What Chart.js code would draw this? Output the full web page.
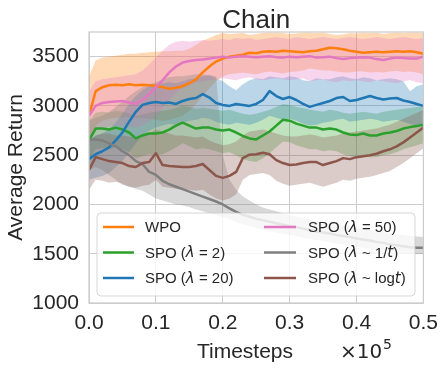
<!DOCTYPE html>
<html><head><meta charset="utf-8">
<script src="https://cdn.jsdelivr.net/npm/chart.js@4.4.1/dist/chart.umd.min.js"></script>
<style>html,body{margin:0;padding:0;background:#fff}canvas{display:block}</style>
</head><body>
<canvas id="c" width="446" height="373"></canvas>
<script>
const timesteps = [0,0.01,0.02,0.03,0.04,0.05,0.06,0.07,0.08,0.09,0.1,0.11,0.12,0.13,0.14,0.15,0.16,0.17,0.18,0.19,0.2,0.21,0.22,0.23,0.24,0.25,0.26,0.27,0.28,0.29,0.3,0.31,0.32,0.33,0.34,0.35,0.36,0.37,0.38,0.39,0.4,0.41,0.42,0.43,0.44,0.45,0.46,0.47,0.48,0.49,0.5];
const xTicks = [0, 0.1, 0.2, 0.3, 0.4, 0.5];
const yTicks = [1000, 1500, 2000, 2500, 3000, 3500];

const wpoMean  = [2900,3150,3190,3210,3215,3210,3220,3210,3215,3210,3205, 3190,3175,3185,3200,3230,3270,3340,3400,3450,3480, 3500,3510,3520,3540,3535,3550,3555,3550,3560,3555, 3550,3545,3555,3560,3575,3590,3585,3575,3560,3550, 3540,3545,3550,3545,3550,3555,3550,3555,3545,3530];
const wpoUpper = [3300,3460,3490,3500,3510,3520,3530,3530,3540,3545,3550, 3555,3555,3560,3560,3580,3620,3660,3690,3720,3740, 3730,3735,3740,3720,3730,3740,3745,3745,3740,3730, 3735,3745,3745,3740,3745,3730,3720,3725,3740,3735, 3745,3740,3745,3730,3740,3745,3740,3745,3745,3740];
const wpoLower = [2600,2800,2850,2870,2880,2880,2890,2880,2880,2870,2860, 2850,2860,2880,2900,2950,3020,3100,3180,3250,3300, 3320,3330,3340,3330,3320,3340,3350,3340,3330,3345, 3350,3360,3380,3370,3360,3360,3350,3340,3340,3350, 3350,3340,3345,3340,3350,3355,3345,3350,3340,3320];

const spo2Mean  = [2650,2770,2770,2760,2780,2760,2730,2670,2700,2720,2720, 2730,2760,2800,2830,2800,2770,2780,2780,2760,2750, 2760,2730,2695,2670,2660,2700,2740,2800,2860,2850, 2820,2800,2780,2780,2760,2770,2760,2730,2710,2705, 2720,2700,2700,2720,2730,2745,2770,2785,2795,2810];
const spo2Upper = [2850,2930,2940,2930,2950,2940,2920,2900,2910,2930,2940, 2950,2960,2980,3000,2990,2970,2980,2970,2960,2950, 2960,2940,2920,2910,2920,2940,2960,2990,3020,3010, 2990,2980,2960,2950,2940,2960,2950,2930,2920,2930, 2940,2930,2920,2940,2950,2960,2970,2980,2990,3000];
const spo2Lower = [2450,2560,2570,2560,2580,2560,2530,2470,2490,2510,2500, 2510,2540,2580,2620,2590,2560,2570,2560,2540,2520, 2530,2500,2460,2440,2430,2470,2520,2580,2640,2630, 2600,2580,2560,2560,2540,2550,2540,2510,2490,2480, 2500,2480,2480,2500,2510,2530,2560,2580,2600,2620];

const spo20Mean  = [2460,2510,2540,2580,2650,2730,2840,2940,3010,3030,3040, 3030,3035,3020,3050,3070,3080,3120,3085,3030,3010, 3000,3020,3010,3000,3020,3060,3150,3100,3070,3090, 3060,3020,2990,3010,3030,3050,3080,3090,3050,3060, 3080,3100,3080,3065,3075,3080,3055,3040,3020,3000];
const spo20Upper = [2650,2700,2720,2760,2830,2920,3020,3100,3160,3200,3220, 3230,3240,3230,3250,3270,3280,3300,3310,3280,3250, 3200,3160,3220,3260,3280,3270,3300,3290,3280,3300, 3290,3260,3250,3280,3270,3270,3290,3300,3280,3270, 3290,3280,3260,3270,3280,3270,3250,3150,3200,3220];
const spo20Lower = [2250,2270,2290,2320,2380,2440,2530,2620,2700,2750,2780, 2800,2820,2810,2830,2850,2860,2880,2870,2840,2820, 2810,2830,2820,2810,2830,2860,2900,2880,2860,2870, 2850,2820,2800,2810,2830,2840,2860,2870,2840,2850, 2860,2870,2860,2840,2850,2860,2840,2820,2800,2780];

const spo50Mean  = [2900,3000,3030,3040,3045,3050,3035,3020,3060,3120,3190, 3260,3340,3400,3440,3455,3465,3470,3480,3490,3500, 3490,3500,3505,3500,3495,3500,3505,3495,3490,3500, 3495,3500,3505,3490,3495,3500,3485,3475,3485,3490, 3495,3490,3475,3465,3480,3490,3485,3480,3480,3500];
const spo50Upper = [3150,3250,3270,3280,3290,3300,3310,3320,3360,3420,3490, 3560,3620,3650,3660,3650,3660,3670,3660,3670,3680, 3670,3690,3680,3690,3670,3680,3690,3700,3690,3680, 3700,3690,3680,3690,3700,3690,3680,3690,3700,3690, 3680,3690,3700,3690,3680,3690,3700,3690,3680,3690];
const spo50Lower = [2650,2750,2780,2790,2800,2800,2790,2780,2800,2840,2900, 2980,3060,3130,3180,3210,3240,3250,3260,3270,3280, 3270,3260,3280,3290,3270,3260,3270,3280,3270,3260, 3270,3280,3250,3260,3270,3250,3240,3260,3250,3260, 3250,3240,3260,3250,3240,3230,3250,3260,3240,3230];

const spoInvMean  = [2660,2660,2650,2620,2590,2540,2500,2440,2410,2330,2300, 2240,2205,2180,2155,2130,2105,2080,2055,2030,2000, 1960,1925,1895,1875,1855,1840,1825,1810,1795,1780, 1770,1755,1740,1725,1715,1705,1690,1680,1670,1655, 1645,1635,1620,1610,1595,1585,1575,1565,1560,1560];
const spoInvUpper = [2850,2880,2900,2940,2990,3040,3100,3150,3190,3220,3240, 3270,3290,3300,3300,3310,3320,3320,3310,3300,2500, 2250,2150,2080,2040,2000,1970,1950,1930,1910,1890, 1875,1860,1845,1830,1820,1810,1795,1785,1775,1760, 1750,1740,1730,1720,1705,1700,1690,1680,1675,1670];
const spoInvLower = [2350,2380,2350,2300,2250,2200,2180,2160,2140,2100,2060, 2040,2020,2000,1990,1975,1950,1930,1910,1890,1870, 1850,1820,1800,1780,1760,1745,1730,1715,1700,1690, 1680,1665,1650,1640,1630,1620,1605,1595,1580,1570, 1560,1550,1540,1530,1520,1510,1505,1500,1500,1500];

const spoLogMean  = [2350,2480,2460,2440,2430,2420,2390,2380,2420,2430,2520, 2400,2390,2385,2380,2380,2390,2410,2350,2290,2270, 2290,2330,2470,2505,2510,2525,2510,2450,2420,2400, 2405,2420,2430,2430,2400,2420,2440,2470,2460,2480, 2490,2500,2515,2540,2560,2590,2630,2680,2730,2780];
const spoLogUpper = [2650,2700,2720,2720,2700,2700,2690,2680,2700,2720,2760, 2740,2720,2700,2700,2690,2680,2690,2650,2620,2600, 2610,2640,2700,2740,2750,2760,2740,2720,2700,2690, 2690,2700,2710,2700,2680,2690,2700,2720,2730,2740, 2750,2760,2770,2790,2810,2840,2870,2900,2930,2960];
const spoLogLower = [2150,2250,2240,2220,2230,2210,2180,2170,2190,2200,2250, 2180,2170,2160,2150,2150,2140,2150,2100,2060,2040, 2060,2100,2250,2300,2310,2320,2300,2240,2210,2190, 2200,2210,2220,2200,2180,2200,2220,2250,2240,2260, 2270,2280,2300,2320,2340,2380,2420,2470,2520,2570];

// legend labels: segments [text, italic]
const legendLabels = [
  [['WPO', false]],
  [['SPO (', false], ['\u03bb', true], [' = 2)', false]],
  [['SPO (', false], ['\u03bb', true], [' = 20)', false]],
  [['SPO (', false], ['\u03bb', true], [' = 50)', false]],
  [['SPO (', false], ['\u03bb', true], [' ~ 1/', false], ['t', true], [')', false]],
  [['SPO (', false], ['\u03bb', true], [' ~ log', false], ['t', true], [')', false]]
];

const series = [
  {mean: wpoMean, upper: wpoUpper, lower: wpoLower, color: '#ff7f0e', rgb: '255,127,14'},
  {mean: spo2Mean, upper: spo2Upper, lower: spo2Lower, color: '#2ca02c', rgb: '44,160,44'},
  {mean: spo20Mean, upper: spo20Upper, lower: spo20Lower, color: '#1f77b4', rgb: '31,119,180'},
  {mean: spo50Mean, upper: spo50Upper, lower: spo50Lower, color: '#e377c2', rgb: '227,119,194'},
  {mean: spoInvMean, upper: spoInvUpper, lower: spoInvLower, color: '#7f7f7f', rgb: '127,127,127'},
  {mean: spoLogMean, upper: spoLogUpper, lower: spoLogLower, color: '#8c564b', rgb: '140,86,75'}
];

const pts = arr => timesteps.map((t, j) => ({x: t, y: arr[j]}));
const datasets = [];
series.forEach((s, i) => {
  const base = datasets.length;
  datasets.push({data: pts(s.upper), borderColor: 'rgba(0,0,0,0)', borderWidth: 0, pointRadius: 0,
    backgroundColor: 'rgba(' + s.rgb + ',0.3)', fill: base + 1, order: 100 - i * 2});
  datasets.push({data: pts(s.lower), borderColor: 'rgba(0,0,0,0)', borderWidth: 0, pointRadius: 0,
    fill: false, order: 99 - i * 2});
});
series.forEach((s, i) => {
  datasets.push({data: pts(s.mean), borderColor: s.color, borderWidth: 2.5, pointRadius: 0,
    fill: false, order: 50 - i, borderJoinStyle: 'round', borderCapStyle: 'butt'});
});

const FONT = "'Liberation Sans', Arial, sans-serif";
const TXT = '#262626';

function drawSegments(ctx, segs, x, y, size) {
  for (const [t, it] of segs) {
    ctx.font = it ? ('italic ' + size + "px 'DejaVu Sans', sans-serif") : (size + 'px ' + FONT);
    ctx.fillText(t, x, y);
    x += ctx.measureText(t).width;
  }
}

const deco = {
  id: 'deco',
  afterDatasetsDraw(chart) {
    const ctx = chart.ctx, a = chart.chartArea;
    ctx.save();
    // frame
    ctx.strokeStyle = '#cccccc';
    ctx.lineWidth = 1.25;
    ctx.strokeRect(a.left, a.top, a.right - a.left, a.bottom - a.top);
    // legend
    const lx = a.left + 8, ly = a.top + 181, lw = 318, lh = 83, r = 4;
    ctx.beginPath();
    ctx.moveTo(lx + r, ly);
    ctx.arcTo(lx + lw, ly, lx + lw, ly + lh, r);
    ctx.arcTo(lx + lw, ly + lh, lx, ly + lh, r);
    ctx.arcTo(lx, ly + lh, lx, ly, r);
    ctx.arcTo(lx, ly, lx + lw, ly, r);
    ctx.closePath();
    ctx.fillStyle = 'rgba(255,255,255,0.8)';
    ctx.fill();
    ctx.strokeStyle = 'rgba(204,204,204,0.8)';
    ctx.lineWidth = 1;
    ctx.stroke();
    const rows = [14, 39.5, 65];
    const cols = [{l0: 14, l1: 45, tx: 56}, {l0: 175, l1: 207, tx: 219}];
    ctx.textBaseline = 'middle';
    ctx.textAlign = 'left';
    series.forEach((s, i) => {
      const c = cols[Math.floor(i / 3)], yy = ly + rows[i % 3];
      ctx.strokeStyle = s.color;
      ctx.lineWidth = 2.5;
      ctx.beginPath();
      ctx.moveTo(a.left + c.l0, yy);
      ctx.lineTo(a.left + c.l1, yy);
      ctx.stroke();
      ctx.fillStyle = TXT;
      drawSegments(ctx, legendLabels[i], a.left + c.tx, yy + 1, 15);
    });
    ctx.restore();
  },
  afterDraw(chart) {
    const ctx = chart.ctx, a = chart.chartArea;
    ctx.save();
    ctx.fillStyle = TXT;
    ctx.textBaseline = 'alphabetic';
    ctx.textAlign = 'center';
    ctx.font = '26px ' + FONT;
    ctx.fillText('Chain', (a.left + a.right) / 2, 28);
    ctx.font = '21px ' + FONT;
    ctx.fillText('Timesteps', 245, 358);
    ctx.textAlign = 'left';
    ctx.font = "20px 'DejaVu Sans', sans-serif";
    ctx.fillText('\u00d710', 340, 358);
    ctx.font = "14px 'DejaVu Sans', sans-serif";
    ctx.fillText('5', 383, 349);
    ctx.translate(22, (a.top + a.bottom) / 2);
    ctx.rotate(-Math.PI / 2);
    ctx.textAlign = 'center';
    ctx.font = '21px ' + FONT;
    ctx.fillText('Average Return', 0, 0);
    ctx.restore();
  }
};

new Chart(document.getElementById('c'), {
  type: 'line',
  data: {datasets},
  options: {
    responsive: false,
    animation: false,
    devicePixelRatio: 1,
    layout: {padding: {top: 32, right: 21, left: 0, bottom: 0}},
    plugins: {legend: {display: false}, title: {display: false}, tooltip: {enabled: false},
      filler: {drawTime: 'beforeDatasetsDraw', propagate: false}},
    elements: {line: {tension: 0}},
    scales: {
      x: {
        type: 'linear', min: 0, max: 0.5,
        afterFit: s => { s.height = 70; },
        afterBuildTicks: s => { s.ticks = xTicks.map(v => ({value: v})); },
        ticks: {padding: 8, color: TXT, font: {family: FONT, size: 21}, callback: v => v.toFixed(1), maxRotation: 0},
        grid: {color: '#cccccc', lineWidth: 1, drawTicks: false},
        border: {display: false}
      },
      y: {
        type: 'linear', min: 1000, max: 3750,
        afterFit: s => { s.width = 89; },
        afterBuildTicks: s => { s.ticks = yTicks.map(v => ({value: v})); },
        ticks: {padding: 10, color: TXT, font: {family: FONT, size: 21}, callback: v => String(v)},
        grid: {color: '#cccccc', lineWidth: 1, drawTicks: false},
        border: {display: false}
      }
    }
  },
  plugins: [deco]
});
</script>
</body></html>
